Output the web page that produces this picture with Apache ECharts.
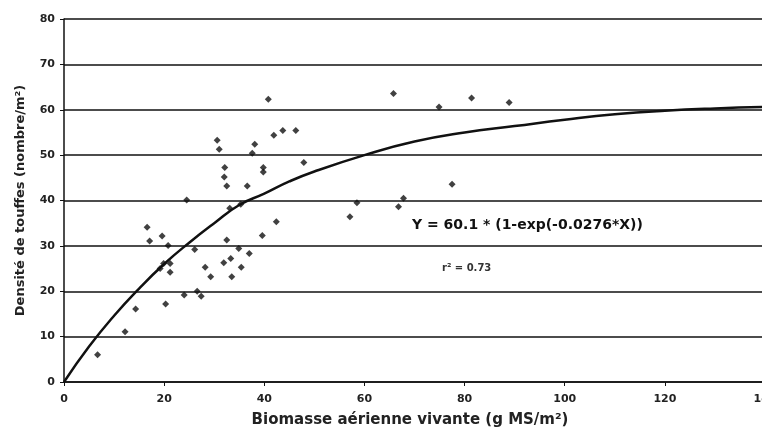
<!DOCTYPE html>
<html>
<head>
<meta charset="utf-8">
<script src="https://cdn.jsdelivr.net/npm/echarts@6/dist/echarts.min.js"></script>
<style>html,body{margin:0;padding:0;background:#fff;}#c{width:762px;height:434px;}</style>
</head>
<body>
<div id="c"></div>
<script>
// Observed points: biomass (g MS/m²) and tuft density (nombre/m²)
const obsX = [6.7, 12.2, 14.3, 16.6, 17.1, 19.6, 20.8, 19.2, 19.9, 21.2, 21.2, 20.3, 24.0, 24.5, 26.1, 26.6,
  27.4, 40.8, 30.6, 31.0, 38.1, 37.6, 41.9, 43.7, 46.3, 47.9, 32.1, 32.0, 32.5, 39.8, 39.8, 36.6, 33.1, 35.3,
  57.1, 58.5, 42.4, 39.6, 32.5, 34.9, 37.0, 28.2, 31.9, 33.3, 35.4, 29.3, 33.5,
  65.8, 74.9, 81.4, 88.9, 77.5, 67.8, 66.8];
const obsY = [6.0, 11.1, 16.1, 34.1, 31.1, 32.2, 30.1, 25.0, 26.1, 26.1, 24.2, 17.2, 19.2, 40.1, 29.2, 20.0,
  18.9, 62.3, 53.3, 51.3, 52.4, 50.4, 54.4, 55.4, 55.4, 48.4, 47.3, 45.2, 43.2, 47.3, 46.3, 43.2, 38.3, 39.2,
  36.4, 39.5, 35.3, 32.3, 31.3, 29.4, 28.3, 25.3, 26.3, 27.2, 25.3, 23.2, 23.2,
  63.6, 60.6, 62.6, 61.6, 43.6, 40.5, 38.6];
// Fitted curve
const fitX = [0, 5, 10, 15, 20, 25, 30, 35, 40, 45, 50, 60, 70, 80, 90, 100, 110, 120, 130, 140];
const fitY = [0, 7.8, 14.6, 20.6, 26.0, 30.7, 35.0, 39.0, 41.5, 44.2, 46.4, 50.0, 53.0, 55.0, 56.4, 57.8, 59.0, 59.8, 60.3, 60.6];
const xTicks = [0, 20, 40, 60, 80, 100, 120, 140];
const yTicks = [0, 10, 20, 30, 40, 50, 60, 70, 80];
const eqText = 'Y = 60.1 * (1-exp(-0.0276*X))';
const r2Text = 'r² = 0.73';

const FONT = '"DejaVu Sans", "Liberation Sans", Arial, sans-serif';
const chart = echarts.init(document.getElementById('c'));
chart.setOption({
  animation: false,
  backgroundColor: '#fff',
  grid: { left: 64, right: -3, top: 19, bottom: 52, outerBoundsMode: 'none', containLabel: false },
  xAxis: {
    type: 'value', min: xTicks[0], max: xTicks[xTicks.length - 1], interval: 20,
    name: 'Biomasse aérienne vivante (g MS/m²)', nameLocation: 'middle', nameGap: 31,
    nameTextStyle: { fontFamily: FONT, fontWeight: 'bold', fontSize: 15, color: '#222', padding: [0, 9, 0, 0] },
    axisLine: { onZero: false, lineStyle: { color: '#111', width: 1.5 } },
    axisTick: { show: true, length: 4, lineStyle: { color: '#111' } },
    axisLabel: { fontFamily: FONT, fontWeight: 'bold', fontSize: 11, color: '#222', margin: 12 },
    splitLine: { show: false }
  },
  yAxis: {
    type: 'value', min: yTicks[0], max: yTicks[yTicks.length - 1], interval: 10,
    name: 'Densité de touffes (nombre/m²)', nameLocation: 'middle', nameGap: 37, nameRotate: 90,
    nameTextStyle: { fontFamily: FONT, fontWeight: 'bold', fontSize: 13, color: '#222' },
    axisLine: { show: true, lineStyle: { color: '#111', width: 1.5 } },
    axisTick: { show: true, length: 4, lineStyle: { color: '#111' } },
    axisLabel: { fontFamily: FONT, fontWeight: 'bold', fontSize: 11, color: '#222', margin: 9 },
    splitLine: { show: true, lineStyle: { color: '#111', width: 1.5 } }
  },
  series: [
    {
      type: 'scatter', symbol: 'diamond', symbolSize: 7,
      itemStyle: { color: '#111' },
      data: obsX.map((x, i) => [x, obsY[i]]),
      z: 3
    },
    {
      type: 'line', smooth: true, showSymbol: false,
      lineStyle: { color: '#111', width: 2.5 },
      data: fitX.map((x, i) => [x, fitY[i]]),
      z: 4
    }
  ],
  graphic: [
    { type: 'text', left: 412, top: 218, style: { text: eqText, font: 'bold 14px ' + FONT, fill: '#111' } },
    { type: 'text', left: 442, top: 263, style: { text: r2Text, font: 'bold 10px ' + FONT, fill: '#333' } }
  ]
});
</script>
</body>
</html>
